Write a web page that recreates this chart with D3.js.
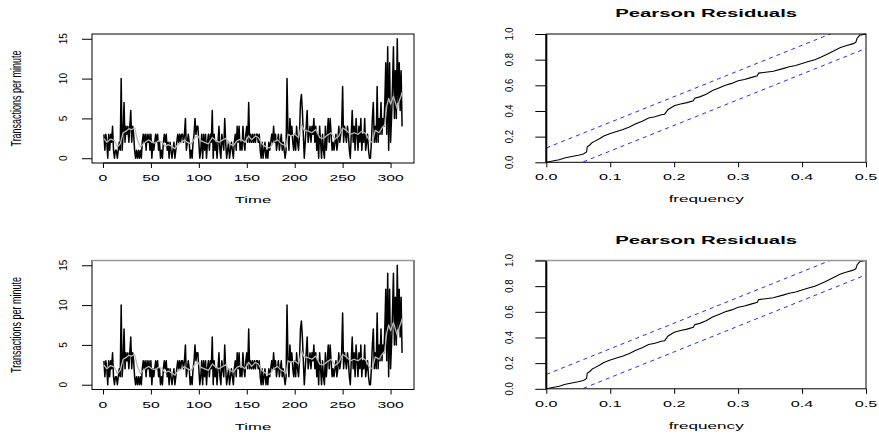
<!DOCTYPE html>
<html><head><meta charset="utf-8">
<script src="https://cdn.jsdelivr.net/npm/d3@7"></script>
<style>
body{margin:0;background:#fff}
svg{display:block}
text{font-family:"Liberation Sans",Arial,Helvetica,sans-serif;fill:#000}
</style>
</head><body>
<svg id="c" width="879" height="435"></svg>
<script>
// ---- data ----
const counts = [
3,1,3,2,0,3,1,3,2,4,
1,0,1,1,0,1,2,1,10,1,
3,7,2,4,3,4,2,4,6,2,
4,3,1,0,1,0,1,0,1,0,
2,3,2,3,1,3,2,3,1,3,
0,2,1,2,3,2,3,1,2,0,
1,0,2,3,2,3,1,2,0,2,
1,0,1,2,0,1,2,3,2,3,
2,3,3,2,3,5,1,2,3,2,
0,1,0,2,3,5,3,4,4,2,
0,1,3,0,3,1,3,0,2,3,
1,3,2,6,0,3,1,2,0,2,
4,1,0,3,2,1,5,2,0,1,
2,0,1,2,1,0,2,3,1,4,
2,4,1,2,1,4,2,1,3,4,
2,7,2,3,2,3,2,3,2,3,
3,2,3,1,0,2,0,1,2,0,
1,0,2,1,2,3,2,4,2,3,
1,2,3,1,2,3,1,2,1,0,
1,10,3,1,5,3,4,2,1,3,
1,4,2,1,3,7,8,6,3,0,
2,4,6,2,3,4,2,4,3,5,
2,4,1,3,0,4,2,0,3,1,
0,4,1,3,5,2,5,3,1,2,
1,2,3,1,2,4,2,3,4,9,
2,4,3,2,4,3,1,0,3,6,
2,4,1,5,3,1,4,2,5,1,
3,2,5,1,2,3,1,0,0,2,
5,7,2,4,2,9,2,5,3,7,
3,5,4,7,12,3,14,1,12,2,
5,9,14,5,11,5,15,7,12,6,
11,4
];
const fittedTime = [1,4,8,12,15,18,21,24,27,30,33,36,39,42,45,48,51,55,58,62,65,68,72,75,78,82,85,88,92,96,99,102,106,110,114,117,121,125,128,132,136,140,144,148,152,155,159,162,166,170,174,178,182,186,190,191,193,196,200,204,207,210,214,218,222,226,230,234,238,242,246,250,254,258,262,266,270,274,278,281,284,288,291,294,296,298,300,303,305,307,309,311,312];
const fittedValue = [2.5,2.0,2.4,2.2,1.4,1.8,3.2,3.4,3.7,3.6,3.8,2.3,1.4,1.8,2.1,2.3,2.0,1.9,2.2,2.0,1.5,1.7,1.5,1.2,1.7,2.0,2.3,2.0,1.8,2.6,2.8,2.2,2.0,1.8,2.6,2.3,2.0,2.3,2.5,1.8,1.6,2.2,2.4,2.0,2.8,2.3,2.8,2.6,1.8,1.4,1.3,2.0,2.3,1.8,1.6,1.4,3.0,2.8,3.0,2.6,4.2,3.5,3.4,3.2,3.6,2.6,2.5,2.9,3.2,2.4,2.8,3.8,3.5,3.0,3.2,3.0,3.4,3.1,2.2,2.0,3.5,3.2,3.8,4.2,6.5,7.5,6.8,7.8,7.0,6.2,7.2,7.8,8.3];
const timeTicks = [0,50,100,150,200,250,300];
const countTicks = [0,5,10,15];

const cpFreq = [0,0.01,0.02,0.03,0.04,0.05,0.058,0.063,0.064,0.068,0.072,0.076,0.08,0.085,0.09,0.095,0.1,0.11,0.12,0.13,0.14,0.15,0.16,0.17,0.18,0.185,0.188,0.19,0.2,0.21,0.22,0.23,0.232,0.24,0.25,0.26,0.27,0.28,0.29,0.3,0.31,0.32,0.33,0.332,0.34,0.355,0.37,0.38,0.39,0.4,0.41,0.42,0.43,0.44,0.45,0.46,0.47,0.48,0.484,0.486,0.49,0.5];
const cpCum = [0,0.01,0.02,0.035,0.045,0.055,0.065,0.08,0.12,0.135,0.155,0.165,0.175,0.19,0.205,0.215,0.225,0.24,0.255,0.275,0.30,0.32,0.345,0.355,0.37,0.375,0.395,0.41,0.44,0.455,0.465,0.48,0.5,0.51,0.53,0.56,0.58,0.60,0.615,0.635,0.645,0.66,0.675,0.695,0.70,0.71,0.73,0.745,0.755,0.77,0.785,0.80,0.82,0.845,0.87,0.895,0.91,0.925,0.935,0.965,0.99,1.0];
const cpBand = 0.112;
const freqTicks = [0,0.1,0.2,0.3,0.4,0.5];
const cumTicks = [0,0.2,0.4,0.6,0.8,1.0];

const tsYLabel = "Transactions per minute";
const tsXLabel = "Time";
const cpTitle = "Pearson Residuals";
const cpXLabel = "frequency";

// ---- drawing ----
const svg = d3.select("#c");

function htext(g, x, y, str, size, sx, weight) {
  return g.append("text")
    .attr("transform", `translate(${x},${y}) scale(${sx},1)`)
    .attr("text-anchor", "middle")
    .attr("font-size", size)
    .attr("font-weight", weight || "normal")
    .text(str);
}
function vtext(g, x, y, str, size, sx) {
  return g.append("text")
    .attr("transform", `translate(${x},${y}) scale(${sx},1) rotate(-90)`)
    .attr("text-anchor", "middle")
    .attr("font-size", size)
    .text(str);
}

const tsData = counts.map((v, i) => [i + 1, v]);
const fitData = fittedTime.map((t, i) => [t, fittedValue[i]]);
const cpData = cpFreq.map((f, i) => [f, cpCum[i]]);

function tsPanel(dy, idx) {
  const g = svg.append("g");
  const L = 92, R = 414, T = 34 + dy, B = 163 + dy;
  const x = d3.scaleLinear().domain([1 - 311 * 0.04, 312 + 311 * 0.04]).range([L, R]);
  const y = d3.scaleLinear().domain([-0.6, 15.6]).range([B, T]);
  const cid = "clipts" + idx;
  g.append("clipPath").attr("id", cid).append("rect")
    .attr("x", L).attr("y", T).attr("width", R - L).attr("height", B - T);
  const line = d3.line().x(d => x(d[0])).y(d => y(d[1]));
  g.append("path").datum(tsData).attr("d", line)
    .attr("fill", "none").attr("stroke", "#000").attr("stroke-width", 1.5)
    .attr("stroke-linejoin", "round").attr("clip-path", `url(#${cid})`);
  g.append("path").datum(fitData).attr("d", line)
    .attr("fill", "none").attr("stroke", "#b8b8b8").attr("stroke-width", 1.3)
    .attr("stroke-linejoin", "round").attr("clip-path", `url(#${cid})`);
  g.append("rect").attr("x", L).attr("y", T).attr("width", R - L).attr("height", B - T)
    .attr("fill", "none").attr("stroke", "#000").attr("stroke-width", 1);
  if (dy > 0) g.append("line").attr("x1", L).attr("x2", R).attr("y1", T).attr("y2", T)
    .attr("stroke", "#9a9a9a").attr("stroke-width", 1.6);
  const ax = g.append("g").attr("transform", `translate(0,${B})`)
    .call(d3.axisBottom(x).tickValues(timeTicks).tickSize(5).tickFormat(""));
  ax.select(".domain").remove();
  ax.selectAll("line").attr("stroke", "#000");
  g.append("line").attr("x1", x(timeTicks[0])).attr("x2", x(timeTicks[timeTicks.length - 1]))
    .attr("y1", B).attr("y2", B).attr("stroke", "#000");
  const ay = g.append("g").attr("transform", `translate(${L},0)`)
    .call(d3.axisLeft(y).tickValues(countTicks).tickSize(10).tickFormat(""));
  ay.select(".domain").remove();
  ay.selectAll("line").attr("stroke", "#000");
  timeTicks.forEach(t => htext(g, x(t), 181.2 + dy, String(t), 9, 1.75));
  countTicks.forEach(v => vtext(g, 67, y(v), String(v), 10, 1.15));
  htext(g, (L + R) / 2, 203.3 + dy, tsXLabel, 9, 1.85);
  vtext(g, 21, (T + B) / 2, tsYLabel, 9, 1.55);
}

function cpPanel(dy, idx) {
  const g = svg.append("g");
  const L = 546.3, R = 866, T = 34 + dy, B = 162.3 + dy;
  const x = d3.scaleLinear().domain([0, 0.5]).range([L, R]);
  const y = d3.scaleLinear().domain([0, 1]).range([B, T]);
  const cid = "clipcp" + idx;
  g.append("clipPath").attr("id", cid).append("rect")
    .attr("x", L).attr("y", T).attr("width", R - L).attr("height", B - T);
  const line = d3.line().x(d => x(d[0])).y(d => y(d[1]));
  g.append("path").datum(cpData).attr("d", line)
    .attr("fill", "none").attr("stroke", "#000").attr("stroke-width", 1.1);
  [[[0, cpBand], [0.5, 1 + cpBand]], [[0, -cpBand], [0.5, 1 - cpBand]]].forEach(seg => {
    g.append("path").datum(seg).attr("d", line)
      .attr("fill", "none").attr("stroke", "#2a2aff").attr("stroke-width", 1)
      .attr("stroke-dasharray", "4,4").attr("clip-path", `url(#${cid})`);
  });
  g.append("rect").attr("x", L).attr("y", T).attr("width", R - L).attr("height", B - T)
    .attr("fill", "none").attr("stroke", "#000").attr("stroke-width", 1);
  g.append("line").attr("x1", L).attr("x2", L).attr("y1", T).attr("y2", B)
    .attr("stroke", "#000").attr("stroke-width", 2);
  if (dy > 0) g.append("line").attr("x1", L - 11).attr("x2", R).attr("y1", T).attr("y2", T)
    .attr("stroke", "#9a9a9a").attr("stroke-width", 1.6);
  const ax = g.append("g").attr("transform", `translate(0,${B})`)
    .call(d3.axisBottom(x).tickValues(freqTicks).tickSize(5).tickFormat(""));
  ax.select(".domain").remove();
  ax.selectAll("line").attr("stroke", "#000");
  const ay = g.append("g").attr("transform", `translate(${L},0)`)
    .call(d3.axisLeft(y).tickValues(cumTicks).tickSize(11).tickFormat(""));
  ay.select(".domain").remove();
  ay.selectAll("line").attr("stroke", "#000");
  freqTicks.forEach(t => htext(g, x(t), 180 + dy, d3.format(".1f")(t), 9, 1.8));
  cumTicks.forEach(v => vtext(g, 513, y(v), d3.format(".1f")(v), 9.5, 1.1));
  htext(g, (L + R) / 2, 202.4 + dy, cpXLabel, 9, 1.9);
  htext(g, (L + R) / 2, 17.3 + dy, cpTitle, 11, 1.85, "bold");
}

tsPanel(0, 0);
tsPanel(226.5, 1);
cpPanel(0, 0);
cpPanel(226.5, 1);
</script>
</body></html>
